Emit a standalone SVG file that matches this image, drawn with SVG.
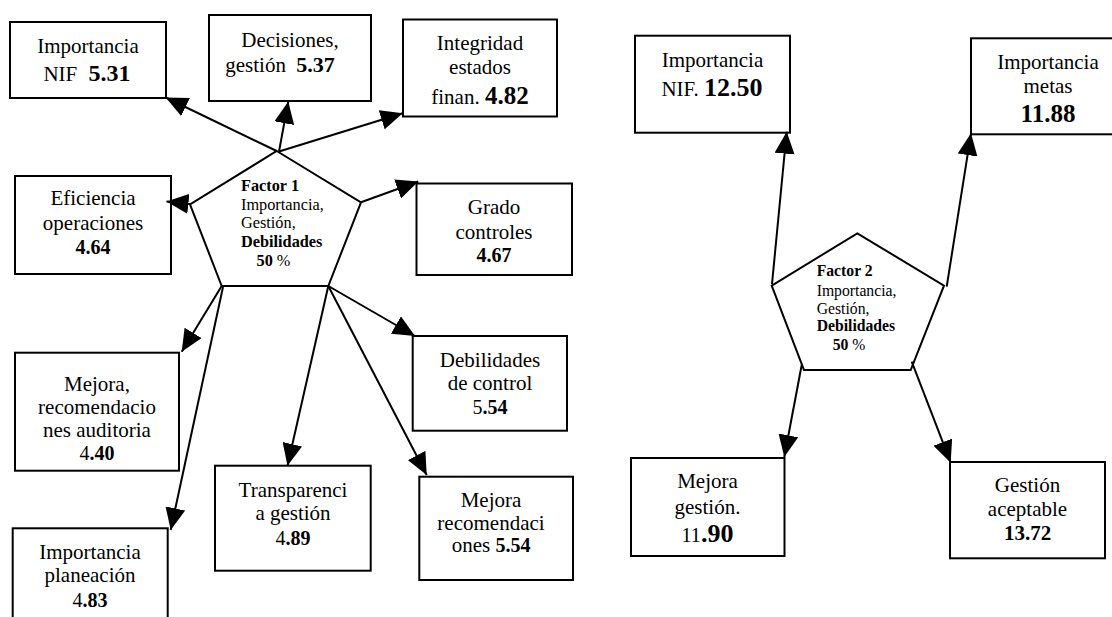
<svg xmlns="http://www.w3.org/2000/svg" width="1112" height="617" viewBox="0 0 1112 617" font-family="Liberation Serif, Times New Roman, serif" font-size="21">
<style>
.box{fill:#fff;stroke:#000;stroke-width:2}
.pent{fill:#fff;stroke:#000;stroke-width:2}
text{fill:#000}
.t{text-anchor:middle}
.f{text-anchor:start}
.b{font-weight:bold}
.c line{stroke:#000;stroke-width:2;marker-end:url(#ah)}
</style>
<defs>
<marker id="ah" markerUnits="userSpaceOnUse" markerWidth="22" markerHeight="20" viewBox="0 0 22 20" refX="22" refY="10" orient="auto">
<path d="M0,0 L22,10 L0,20 z" fill="#000"/>
</marker>
</defs>
<rect width="1112" height="617" fill="#fff"/>

<g id="factor1" font-size="16.3">
<polygon class="pent" points="276.7,151 361,202.3 328.3,286 221.7,286 190,204.3"/>
<text class="f b" x="241" y="191">Factor 1</text>
<text class="f" x="241" y="210">Importancia,</text>
<text class="f" x="241" y="228">Gestión,</text>
<text class="f b" x="241" y="247">Debilidades</text>
<text class="f" x="256.5" y="266"><tspan class="b">50</tspan> %</text>
</g>

<g id="n_importancia_nif">
<rect class="box" x="10" y="22" width="156" height="76"/>
<text class="t" x="88" y="53">Importancia</text>
<text class="t" x="87" y="81">NIF <tspan class="b" font-size="24" dx="6">5.31</tspan></text>
</g>

<g id="n_decisiones">
<rect class="box" x="209" y="15" width="162" height="86"/>
<text class="t" x="290" y="47">Decisiones,</text>
<text class="t" x="280" y="72">gestión <tspan class="b" font-size="22" dx="5">5.37</tspan></text>
</g>

<g id="n_integridad">
<rect class="box" x="403" y="19.5" width="154" height="97"/>
<text class="t" x="480" y="50">Integridad</text>
<text class="t" x="480" y="74">estados</text>
<text class="t" x="480" y="103.5">finan. <tspan class="b" font-size="25">4.82</tspan></text>
</g>

<g id="n_eficiencia">
<rect class="box" x="15" y="176" width="156" height="98"/>
<text class="t" x="93" y="205">Eficiencia</text>
<text class="t" x="93" y="230">operaciones</text>
<text class="t b" x="93" y="253.5" font-size="20">4.64</text>
</g>

<g id="n_grado">
<rect class="box" x="416.5" y="183.5" width="155.5" height="91.5"/>
<text class="t" x="494" y="213.5">Grado</text>
<text class="t" x="494" y="238.5">controles</text>
<text class="t b" x="494" y="262" font-size="20">4.67</text>
</g>

<g id="n_mejora_auditoria">
<rect class="box" x="15" y="352.7" width="164" height="118"/>
<text class="t" x="97" y="390.5">Mejora,</text>
<text class="t" x="97" y="413.5">recomendacio</text>
<text class="t" x="97" y="436.5">nes auditoria</text>
<text class="t" x="97" y="459.5" font-size="20">4<tspan class="b">.40</tspan></text>
</g>

<g id="n_importancia_planeacion">
<rect class="box" x="12.7" y="528.3" width="155" height="100"/>
<text class="t" x="90" y="558.5">Importancia</text>
<text class="t" x="90" y="582">planeación</text>
<text class="t" x="90" y="607" font-size="20">4<tspan class="b">.83</tspan></text>
</g>

<g id="n_transparencia">
<rect class="box" x="215" y="465.7" width="155.7" height="105"/>
<text class="t" x="293" y="497">Transparenci</text>
<text class="t" x="293" y="520">a gestión</text>
<text class="t" x="293" y="545" font-size="20">4<tspan class="b">.89</tspan></text>
</g>

<g id="n_debilidades">
<rect class="box" x="412.7" y="336" width="154.3" height="94.7"/>
<text class="t" x="490" y="367">Debilidades</text>
<text class="t" x="490" y="390">de control</text>
<text class="t" x="490" y="414" font-size="20">5<tspan class="b">.54</tspan></text>
</g>

<g id="n_mejora_recomendaciones">
<rect class="box" x="419.3" y="476.7" width="153.7" height="103.3"/>
<text class="t" x="491" y="507">Mejora</text>
<text class="t" x="491" y="530">recomendaci</text>
<text class="t" x="491" y="552">ones <tspan class="b" font-size="20">5.54</tspan></text>
</g>

<g id="factor2" font-size="15.7">
<polygon class="pent" points="857.3,233.3 944,285.7 910.7,370 804,370 771.7,285.7"/>
<text class="f b" x="816.7" y="276">Factor 2</text>
<text class="f" x="816.7" y="296">Importancia,</text>
<text class="f" x="816.7" y="314">Gestión,</text>
<text class="f b" x="816.7" y="331">Debilidades</text>
<text class="f" x="832.7" y="349.5"><tspan class="b">50</tspan> %</text>
</g>

<g id="n_importancia_nif2">
<rect class="box" x="635" y="35.7" width="155" height="97"/>
<text class="t" x="712.5" y="67">Importancia</text>
<text class="t" x="712" y="96">NIF. <tspan class="b" font-size="26">12.50</tspan></text>
</g>

<g id="n_importancia_metas">
<rect class="box" x="971" y="38.3" width="154" height="96"/>
<text class="t" x="1048" y="68.5">Importancia</text>
<text class="t" x="1048" y="93">metas</text>
<text class="t b" x="1048" y="122" font-size="25">11.88</text>
</g>

<g id="n_mejora_gestion">
<rect class="box" x="631" y="458" width="153.5" height="98"/>
<text class="t" x="707.5" y="488">Mejora</text>
<text class="t" x="707.5" y="514">gestión.</text>
<text class="t" x="707.5" y="541.5" font-size="20">11<tspan class="b" font-size="26">.90</tspan></text>
</g>

<g id="n_gestion_aceptable">
<rect class="box" x="950" y="462" width="155" height="96.3"/>
<text class="t" x="1027.5" y="492">Gestión</text>
<text class="t" x="1027.5" y="516">aceptable</text>
<text class="t b" x="1027.5" y="539.5" font-size="21">13.72</text>
</g>

<g id="connectors" class="c">
<line x1="276.7" y1="151" x2="165.7" y2="97.5"/>
<line x1="279" y1="151.5" x2="288.3" y2="101.5"/>
<line x1="279" y1="151.5" x2="402.7" y2="113.3"/>
<line x1="190" y1="204" x2="166.5" y2="201.5"/>
<line x1="361" y1="202.3" x2="418.3" y2="181.5"/>
<line x1="221.7" y1="286" x2="181.7" y2="351.7"/>
<line x1="223" y1="287" x2="170.7" y2="530"/>
<line x1="328.3" y1="286" x2="287.5" y2="465.7"/>
<line x1="328.3" y1="286" x2="426.7" y2="475"/>
<line x1="328.3" y1="286" x2="415" y2="336"/>
<line x1="772" y1="284" x2="786.7" y2="131.7"/>
<line x1="946.7" y1="286.7" x2="971" y2="133.3"/>
<line x1="801.7" y1="365" x2="784.3" y2="457"/>
<line x1="911.7" y1="361.7" x2="950.7" y2="462.7"/>
</g>
</svg>
